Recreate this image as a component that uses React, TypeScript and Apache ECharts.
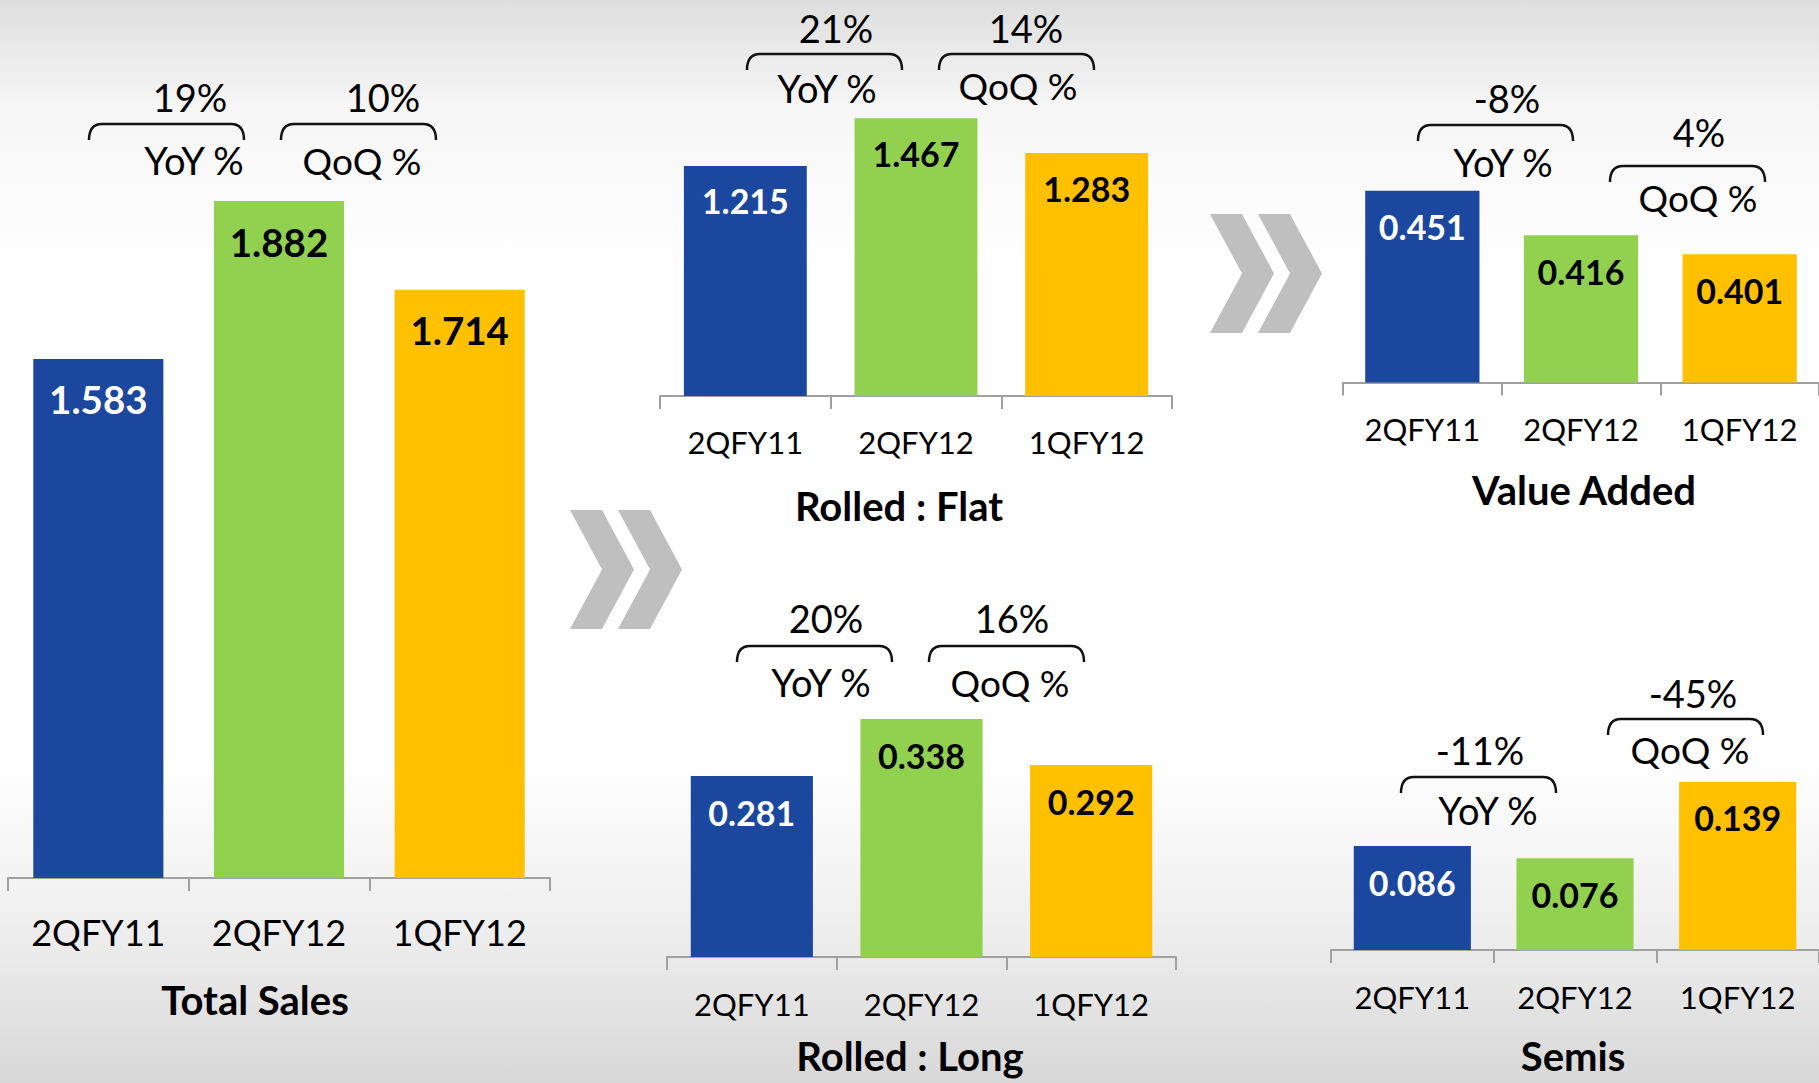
import React, { useEffect, useRef } from "react";
import * as echarts from "echarts";

// ---- data ----
const categories = ["2QFY11", "2QFY12", "1QFY12"];
const totalSales = [1.583, 1.882, 1.714];
const rolledFlat = [1.215, 1.467, 1.283];
const rolledLong = [0.281, 0.338, 0.292];
const valueAdded = [0.451, 0.416, 0.401];
const semis = [0.086, 0.076, 0.139];
const titles = ["Total Sales", "Rolled : Flat", "Rolled : Long", "Value Added", "Semis"];
const yoyChange = ["19%", "21%", "20%", "-8%", "-11%"];
const qoqChange = ["10%", "14%", "16%", "4%", "-45%"];
const yoyLabel = "YoY %";
const qoqLabel = "QoQ %";

// ---- styles / layout ----
const barColors = ["#1B479E", "#92D050", "#FFC000"];
const valueLabelColors = ["#FFFFFF", "#000000", "#000000"];
const FONT = "Lato, 'Noto Sans', sans-serif";
const TITLE_SIZE = 40;
const NOTE_SIZE = 38;

const panels = [
  {
    values: totalSales,
    grid: { left: 8, top: 191.6, width: 542, height: 686.4 },
    min: 0.6, max: 1.9,
    catSize: 36, valSize: 38.5, valDist: 21, catMargin: 36,
    title: [255, 1000],
    yoyBrace: [89, 124], qoqBrace: [281, 124],
    yoyPct: [190, 97], yoyLbl: [194, 160],
    qoqPct: [383, 97], qoqLbl: [362, 160],
  },
  {
    values: rolledFlat,
    grid: { left: 660, top: 93, width: 512, height: 303 },
    min: 0, max: 1.6,
    catSize: 31, valSize: 34, valDist: 18, catMargin: 30,
    title: [899, 506],
    yoyBrace: [747, 54], qoqBrace: [939, 54],
    yoyPct: [836, 28], yoyLbl: [827, 88],
    qoqPct: [1026, 28], qoqLbl: [1018, 85],
  },
  {
    values: rolledLong,
    grid: { left: 667, top: 657, width: 509, height: 300 },
    min: 0.1, max: 0.4,
    catSize: 31, valSize: 34, valDist: 19, catMargin: 31,
    title: [910, 1056],
    yoyBrace: [737, 646], qoqBrace: [929, 646],
    yoyPct: [826, 618], yoyLbl: [821, 682],
    qoqPct: [1012, 618], qoqLbl: [1010, 682],
  },
  {
    values: valueAdded,
    grid: { left: 1343, top: 128.6, width: 483, height: 254 },
    min: 0.3, max: 0.5,
    catSize: 31, valSize: 34, valDist: 19, catMargin: 31,
    title: [1584, 490],
    yoyBrace: [1418, 125], qoqBrace: [1610, 166],
    yoyPct: [1507, 98], yoyLbl: [1503, 162],
    qoqPct: [1699, 132], qoqLbl: [1698, 197],
  },
  {
    values: semis,
    grid: { left: 1331, top: 756.6, width: 489, height: 193.4 },
    min: 0, max: 0.16,
    catSize: 31, valSize: 34, valDist: 19, catMargin: 31,
    title: [1573, 1056],
    yoyBrace: [1401, 777], qoqBrace: [1608, 719],
    yoyPct: [1480, 750], yoyLbl: [1488, 810],
    qoqPct: [1693, 693], qoqLbl: [1690, 749],
  },
];

const chevronA = [
  [[570, 510], [602, 510], [634, 569.5], [602, 629], [570, 629], [602, 569.5]],
  [[618, 510], [650, 510], [682, 569.5], [650, 629], [618, 629], [650, 569.5]],
];
const chevronShift = [640, -296];

let registered = false;
function registerShapes() {
  if (registered) return;
  registered = true;
  echarts.graphic.registerShape(
    "brace",
    echarts.graphic.extendPath("M0,16 Q0,0 13,0 L142,0 Q155,0 155,16", {})
  );
}

export default function App() {
  const ref = useRef<HTMLDivElement>(null);

  useEffect(() => {
    document.body.style.margin = "0";
    registerShapes();
    const chart = echarts.init(ref.current!, undefined, { renderer: "svg" });

    const txt = (text: string, x: number, y: number, size: number, bold = false) => ({
      type: "text",
      x,
      y,
      style: {
        text,
        fill: "#000",
        font: `${bold ? "bold " : ""}${size}px ${FONT}`,
        lineHeight: size,
        align: "center",
        verticalAlign: "middle",
      },
      z: 10,
    });

    const graphics: any[] = [];
    panels.forEach((p, i) => {
      graphics.push(txt(titles[i], p.title[0], p.title[1], TITLE_SIZE, true));
      graphics.push(txt(yoyChange[i], p.yoyPct[0], p.yoyPct[1], NOTE_SIZE));
      graphics.push(txt(yoyLabel, p.yoyLbl[0], p.yoyLbl[1], NOTE_SIZE));
      graphics.push(txt(qoqChange[i], p.qoqPct[0], p.qoqPct[1], NOTE_SIZE));
      graphics.push(txt(qoqLabel, p.qoqLbl[0], p.qoqLbl[1], NOTE_SIZE - 1));
      [p.yoyBrace, p.qoqBrace].forEach((b) =>
        graphics.push({
          type: "brace",
          x: b[0],
          y: b[1],
          style: { fill: "none", stroke: "#111", lineWidth: 2.5 },
          z: 10,
        })
      );
    });
    [[0, 0], chevronShift].forEach((s) =>
      chevronA.forEach((pts) =>
        graphics.push({
          type: "polygon",
          shape: { points: pts.map(([x, y]) => [x + s[0], y + s[1]]) },
          style: { fill: "#BFBFBF" },
          z: 5,
        })
      )
    );

    chart.setOption({
      animation: false,
      backgroundColor: {
        type: "linear",
        x: 0, y: 0, x2: 0, y2: 1,
        colorStops: [
          { offset: 0, color: "#DEDEDE" },
          { offset: 0.1, color: "#F6F6F6" },
          { offset: 0.25, color: "#FFFFFF" },
          { offset: 0.7, color: "#FFFFFF" },
          { offset: 0.85, color: "#EFEFEF" },
          { offset: 1, color: "#D8D8D8" },
        ],
      },
      grid: panels.map((p) => ({ ...p.grid, containLabel: false })),
      xAxis: panels.map((p, i) => ({
        type: "category",
        gridIndex: i,
        data: categories,
        axisLine: { show: true, lineStyle: { color: "#A0A0A0", width: 2 } },
        axisTick: { show: true, length: 13, lineStyle: { color: "#A0A0A0", width: 2 } },
        axisLabel: {
          color: "#000",
          fontSize: p.catSize,
          fontFamily: FONT,
          margin: p.catMargin,
          interval: 0,
        },
        splitLine: { show: false },
      })),
      yAxis: panels.map((p, i) => ({
        type: "value",
        gridIndex: i,
        min: p.min,
        max: p.max,
        show: false,
        splitLine: { show: false },
      })),
      series: panels.map((p, i) => ({
        type: "bar",
        xAxisIndex: i,
        yAxisIndex: i,
        barWidth: "72%",
        data: p.values.map((v, j) => ({
          value: v,
          itemStyle: { color: barColors[j] },
          label: { color: valueLabelColors[j] },
        })),
        label: {
          show: true,
          position: "insideTop",
          distance: p.valDist,
          fontSize: p.valSize,
          fontWeight: "bold",
          fontFamily: FONT,
          formatter: (d: any) => d.value.toFixed(3),
        },
      })),
      graphic: graphics,
    });

    return () => chart.dispose();
  }, []);

  return (
    <div
      ref={ref}
      style={{ position: "absolute", left: 0, top: 0, width: 1819, height: 1083 }}
    />
  );
}
